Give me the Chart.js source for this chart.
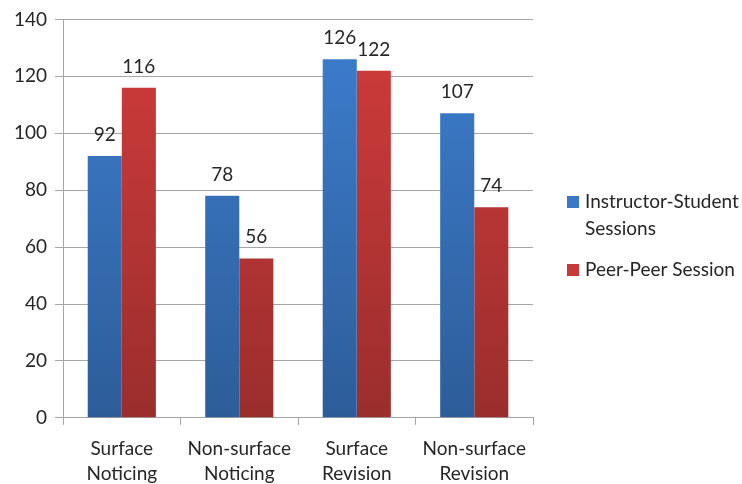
<!DOCTYPE html>
<html>
<head>
<meta charset="utf-8">
<script src="https://cdn.jsdelivr.net/npm/chart.js@4"></script>
<style>
  html, body { margin: 0; padding: 0; background: #ffffff; }
  #wrap { width: 742px; height: 484px; position: relative; }
</style>
</head>
<body>
<div id="wrap"><canvas id="chart" width="742" height="484"></canvas></div>
<script>
// Categories (two-line axis labels)
const categories = [
  ["Surface", "Noticing"],
  ["Non-surface", "Noticing"],
  ["Surface", "Revision"],
  ["Non-surface", "Revision"]
];
const seriesNames = [["Instructor-Student", "Sessions"], ["Peer-Peer Session"]];
const instructorStudent = [92, 78, 126, 107];
const peerPeer = [116, 56, 122, 74];
const yTicks = [0, 20, 40, 60, 80, 100, 120, 140];

const FONT = "Lato, 'Open Sans', sans-serif";
const TEXT = "#262626";

// Vertical gradient fill for a bar series, light at top, darker at the base
function barGradient(top, bottom) {
  return function (ctx) {
    const area = ctx.chart.chartArea;
    if (!area) return top;
    const g = ctx.chart.ctx.createLinearGradient(0, area.top, 0, area.bottom);
    g.addColorStop(0, top);
    g.addColorStop(1, bottom);
    return g;
  };
}
const swatchColors = ["#3b78c8", "#c73a39"];

// Value labels above each bar
const valueLabels = {
  id: "valueLabels",
  afterDatasetsDraw(chart) {
    const c = chart.ctx;
    c.save();
    c.font = "19px " + FONT;
    c.fillStyle = TEXT;
    c.textAlign = "center";
    c.textBaseline = "alphabetic";
    chart.data.datasets.forEach((ds, di) => {
      chart.getDatasetMeta(di).data.forEach((bar, i) => {
        c.fillText(String(ds.data[i]), bar.x, bar.y - 15);
      });
    });
    c.restore();
  }
};

// Legend on the right, with a wrapped first entry
const sideLegend = {
  id: "sideLegend",
  afterDraw(chart) {
    const c = chart.ctx;
    c.save();
    c.font = "19px " + FONT;
    c.textBaseline = "middle";
    const x = 567, tx = 585;
    const entries = [
      { y: 202, lineGap: 27 },
      { y: 270, lineGap: 27 }
    ];
    seriesNames.forEach((lines, i) => {
      const e = entries[i];
      c.fillStyle = swatchColors[i];
      c.fillRect(x, e.y - 6, 12, 12);
      c.fillStyle = TEXT;
      lines.forEach((t, li) => c.fillText(t, tx, e.y + li * e.lineGap));
    });
    c.restore();
  }
};

new Chart(document.getElementById("chart"), {
  type: "bar",
  data: {
    labels: categories,
    datasets: [
      {
        label: seriesNames[0].join(" "),
        data: instructorStudent,
        backgroundColor: barGradient("#3d7ecf", "#2d5d99"),
        borderWidth: 0
      },
      {
        label: seriesNames[1].join(" "),
        data: peerPeer,
        backgroundColor: barGradient("#d13c3b", "#9a2e2d"),
        borderWidth: 0
      }
    ]
  },
  options: {
    responsive: false,
    animation: false,
    devicePixelRatio: 1,
    layout: { padding: { top: 19, right: 209, left: 6, bottom: -13 } },
    datasets: { bar: { categoryPercentage: 0.58, barPercentage: 1.0 } },
    plugins: {
      legend: { display: false },
      tooltip: { enabled: false }
    },
    scales: {
      x: {
        grid: {
          display: true,
          drawOnChartArea: false,
          drawTicks: true,
          tickLength: 7,
          color: "#a6a6a6",
          offset: true
        },
        border: { display: true, color: "#a6a6a6", width: 1 },
        ticks: {
          color: TEXT,
          font: { family: FONT, size: 19, lineHeight: 1.32 },
          padding: 11,
          maxRotation: 0,
          autoSkip: false
        }
      },
      y: {
        min: 0,
        max: 140,
        afterBuildTicks(axis) { axis.ticks = yTicks.map(v => ({ value: v })); },
        grid: {
          color: "#a6a6a6",
          lineWidth: 1,
          drawTicks: true,
          tickLength: 8
        },
        border: { display: true, color: "#a6a6a6", width: 1 },
        ticks: {
          color: TEXT,
          font: { family: FONT, size: 19 },
          padding: 8
        }
      }
    }
  },
  plugins: [valueLabels, sideLegend]
});
</script>
</body>
</html>
